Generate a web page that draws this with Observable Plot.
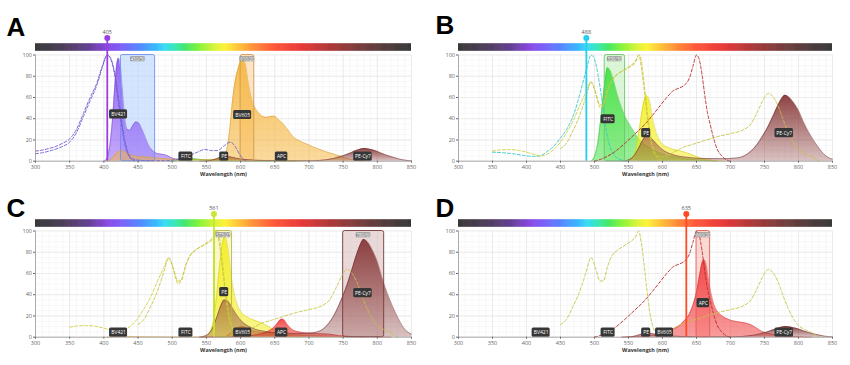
<!DOCTYPE html>
<html><head><meta charset="utf-8">
<script src="https://cdn.jsdelivr.net/npm/d3@7"></script>
<script src="https://cdn.jsdelivr.net/npm/@observablehq/plot@0.6"></script>
<style>
body{margin:0;background:#fff;}
#wrap{position:relative;width:850px;height:365px;overflow:hidden;background:#fff;}
#wrap svg{position:absolute;}
</style></head><body><div id="wrap"></div>
<script>
// ---------- DATA ----------
const dyes = ["BV421", "FITC", "PE", "BV605", "APC", "PE-Cy7"];
const dyePeaks = [421.5, 520, 576, 603, 660, 779];
const dyeColors = ["#8a55f5", "#3fe03f", "#f4ee1c", "#f6b53c", "#f23b3b", "#843232"];
const excColors = ["#7b4fcf", "#38c6c6", "#d0d03a", "#6a5fd0", "#b52a2a", "#c4c444"];
// order in which the emission areas are stacked (back to front)
const drawOrder = ["BV421", "FITC", "PE", "BV605", "APC", "PE-Cy7"];
// gradient opacity (top, bottom) per dye
const gradTop = [0.9, 0.9, 0.9, 0.9, 0.9, 0.92];
const gradBottom = [0.5, 0.5, 0.5, 0.5, 0.5, 0.3];

// excitation spectra [wavelength, %]
const BV421_ex = [[300,9.5],[310,10.5],[320,12],[330,14],[340,17],[350,21],[360,30],[370,45],[380,60],[390,74],[398,90],[405,100],[410,96],[415,84],[420,62],[425,38],[430,18],[435,7],[440,2],[445,0]];
const FITC_ex = [[350,8.5],[365,8],[380,7],[395,5.5],[410,4.5],[420,5],[430,9],[440,14],[450,22],[460,31],[470,45],[480,67],[488,86],[495,100],[500,96],[505,82],[510,62],[515,38],[520,20],[525,10],[530,5],[540,1],[550,0]];
const PE_ex = [[350,9.5],[360,10.5],[375,11],[390,10],[400,8.5],[410,6.5],[420,5],[430,6.5],[440,11],[450,18],[460,28],[470,40],[480,55],[488,66],[494,74],[499,70],[504,58],[509,50],[514,55],[521,70],[528,78],[536,83],[545,86],[553,89],[559,92],[563,97],[566,100],[569,94],[573,74],[577,50],[581,30],[585,15],[590,6],[595,2],[600,0]];
const BV605_ex = [[300,7],[310,8],[320,9.5],[330,11.5],[340,14],[350,18],[360,27],[370,42],[380,57],[390,72],[398,89],[405,100],[410,97],[415,86],[420,66],[425,43],[430,22],[435,9],[440,3],[450,1],[470,0.5],[490,0.5],[505,1.5],[520,4],[535,8],[548,11],[558,10],[566,10],[575,14],[585,18],[592,14],[598,7],[604,2],[610,0]];
const APC_ex = [[500,0],[510,2],[520,5],[530,9],[545,17],[560,26],[570,32],[585,43],[595,51],[605,59],[615,66],[625,69],[633,72],[640,79],[645,90],[650,100],[654,96],[658,82],[662,63],[666,46],[670,35],[675,22],[680,12],[687,5],[695,1],[700,0]];
const PECy7_ex = [[450,12],[460,18],[467,27],[475,38],[482,50],[488,62],[495,75],[502,64],[508,53],[513,53],[519,66],[526,77],[534,82],[541,85],[548,88],[555,91],[560,94],[565,100],[569,88],[573,68],[577,45],[581,25],[585,12],[590,5],[600,4],[615,8],[630,13],[645,16],[660,19],[680,23],[700,26],[720,30],[730,35],[740,47],[750,60],[756,64],[762,61],[770,52],[778,38],[785,27],[792,18],[800,11],[810,7],[820,4],[830,0]];

// emission spectra [wavelength, %]
const BV421_em = [[400,0],[404,2],[408,12],[412,35],[416,72],[419,94],[421.5,100],[424,93],[427,70],[430,45],[434,31],[438,30],[442,34],[447,38],[451,37],[455,32],[460,24],[465,16],[470,11],[476,8],[482,7],[488,6.5],[494,5],[500,3],[510,1.5],[520,0.5],[530,0]];
const FITC_em = [[495,0],[500,5],[505,20],[510,50],[515,82],[519,100],[523,97],[528,86],[534,70],[540,57],[545,48],[550,41],[556,34],[563,26],[570,20],[580,15],[592,10],[605,6.5],[622,4],[640,2],[660,1],[680,0]];
const PE_em = [[545,0],[550,1],[555,5],[560,16],[565,42],[569,70],[573,92],[576,100],[579,97],[582,86],[586,62],[590,46],[595,33],[600,26],[610,20],[620,17],[628,15],[636,12.5],[645,9],[655,5],[665,2.5],[675,1],[690,0]];
const BV605_em = [[405,0],[410,1.5],[415,5],[420,9],[425,10.5],[430,9.5],[436,7],[445,5],[460,4],[480,3],[500,2],[520,1.5],[550,1.5],[566,2],[572,2.5],[576,4],[580,12],[584,30],[588,58],[592,78],[597,92],[602,100],[606,97],[611,78],[615,64],[620,54],[626,48],[632,44],[638,43],[645,44],[650,44],[655,41],[662,37],[670,30],[677,24],[686,20],[696,17],[706,14],[716,11.5],[726,9],[736,7],[745,5],[752,3.5],[760,2],[770,0.8],[780,0]];
const APC_em = [[540,0],[560,1],[580,2],[595,4],[605,7],[615,10],[625,15],[632,21],[639,29],[645,42],[650,58],[655,82],[659,98],[661,100],[664,94],[668,72],[672,54],[677,39],[683,31],[690,26],[700,22],[710,20],[720,18.5],[730,16],[738,12],[746,7.5],[755,5],[765,3],[780,1.5],[800,0.5],[820,0]];
const PECy7_em = [[540,0],[550,2],[558,8],[565,20],[571,32],[576,38],[581,37],[587,31],[594,23],[602,16],[612,11],[622,8],[635,6],[650,4.5],[670,4],[690,3.8],[705,4.5],[715,6],[722,9],[730,15],[738,24],[746,36],[754,50],[762,67],[770,85],[776,96],[780,100],[785,98],[792,90],[800,77],[808,58],[815,44],[822,32],[830,20],[838,10],[845,5],[850,3]];

// panels
const panelLetters = ["A", "B", "C", "D"];
const laserWl = [405, 488, 561, 635];
const laserColors = ["#9a3ee0", "#22d0ee", "#c8e632", "#ff4a24"];
// emission brightness per panel, in dye order
const brightA = [97, 3, 4, 96, 0, 12];
const brightB = [0, 88, 62, 0, 0, 62];
const brightC = [0, 0, 94, 10, 17, 92];
const brightD = [0, 0, 0, 0, 73, 10];
const panelExc = [["BV421", "BV605"], ["FITC", "PE", "APC", "PE-Cy7"], ["PE", "PE-Cy7"], ["APC", "PE-Cy7"]];
const panelLabels = [dyes, ["FITC", "PE", "PE-Cy7"], dyes, dyes];
const filterNames = [["450/50", "610/20"], ["530/30"], ["575/25", "780/60"], ["660/20"]];
const filterFills = [["#b8d4ff", "#fcd4a0"], ["#c4f2bc"], ["#f5f5a8", "#dcc0c0"], ["#fbc0b8"]];
const filterStrokes = [["#6f8ff0", "#d09a50"], ["#6cc46c"], ["#b8b840", "#7a3a3a"], ["#e06060"]];

// axes
const xTicks = [300, 350, 400, 450, 500, 550, 600, 650, 700, 750, 800, 850];
const yTicks = [0, 20, 40, 60, 80, 100];
const minorX = [300,310,320,330,340,350,360,370,380,390,400,410,420,430,440,450,460,470,480,490,500,510,520,530,540,550,560,570,580,590,600,610,620,630,640,650,660,670,680,690,700,710,720,730,740,750,760,770,780,790,800,810,820,830,840,850];
const minorY = [0,5,10,15,20,25,30,35,40,45,50,55,60,65,70,75,80,85,90,95,100];

// spectrum colour bar
const barStops = [300, 345, 380, 405, 425, 450, 475, 490, 505, 520, 540, 560, 578, 598, 620, 648, 690, 735, 780, 820, 850];
const barColors = ["#000000","#1e0830","#3a0a78","#6814d8","#5a30f5","#2860ff","#00a0ff","#00d0f0","#00e0a0","#10e040","#60f000","#c0f000","#ffee00","#ffb000","#ff7000","#ff2a00","#e00000","#900000","#4a0808","#1a0404","#000000"];

// ---------- BUILD ----------
const ex = {BV421: BV421_ex, FITC: FITC_ex, PE: PE_ex, BV605: BV605_ex, APC: APC_ex, "PE-Cy7": PECy7_ex};
const em = [BV421_em, FITC_em, PE_em, BV605_em, APC_em, PECy7_em];
const brights = [brightA, brightB, brightC, brightD];
const barScale = d3.scaleLinear().domain(barStops).range(barColors).interpolate(d3.interpolateRgb);
const barWl = d3.range(barStops[0], barStops[barStops.length - 1]);
const labelW = {BV421: 18, FITC: 14, PE: 9, BV605: 18, APC: 12.5, "PE-Cy7": 18.5};

// layout
const L = {left: [0, 423, 0, 423], top: [0, 0, 176, 176], width: [425, 423, 425, 423],
  letterDx: [-29, -23, -29, -23], letterDy: [-37.5, -39.5, -32.5, -32.5]};
const FONT = "'Open Sans', 'Noto Sans', sans-serif";

const wrap = document.getElementById("wrap");

panelLetters.forEach((letter, p) => {
  const marks = [];
  // grid
  marks.push(Plot.ruleX(minorX, {y1: 0, y2: 100, stroke: "#f0f0f0", strokeWidth: 0.5}));
  marks.push(Plot.ruleY(minorY, {x1: 300, x2: 850, stroke: "#f0f0f0", strokeWidth: 0.5}));
  marks.push(Plot.ruleX(xTicks, {y1: 0, y2: 100, stroke: "#e3e3e3", strokeWidth: 0.6}));
  marks.push(Plot.ruleY(yTicks, {x1: 300, x2: 850, stroke: "#e3e3e3", strokeWidth: 0.6}));

  // filter fills (behind)
  const filters = filterNames[p].map((name, j) => {
    const [c, w] = name.split("/").map(Number);
    return {name, x1: c - w / 2, x2: c + w / 2, c, fill: filterFills[p][j], stroke: filterStrokes[p][j]};
  });
  filters.forEach(f => {
    marks.push(Plot.rect([f], {x1: "x1", x2: "x2", y1: 0, y2: 100, fill: f.fill, fillOpacity: 0.6, rx: 2}));
  });

  // emissions
  drawOrder.forEach(name => {
    const i = dyes.indexOf(name);
    const b = brights[p][i];
    if (!(b > 0)) return;
    const data = em[i].map(([w, v]) => ({w, v: v * b / 100}));
    marks.push(Plot.areaY(data, {x: "w", y: "v", fill: `url(#em${p}_${i})`, curve: "monotone-x"}));
    marks.push(Plot.lineY(data, {x: "w", y: "v", stroke: d3.color(dyeColors[i]).darker(0.5).formatHex(), strokeWidth: 0.6, strokeOpacity: 0.8, curve: "monotone-x"}));
  });

  // filter outlines
  filters.forEach(f => {
    marks.push(Plot.rect([f], {x1: "x1", x2: "x2", y1: 0, y2: 100, fill: "none", stroke: f.stroke, strokeWidth: 0.9, rx: 2}));
  });

  // excitation (dashed)
  panelExc[p].forEach(name => {
    const i = dyes.indexOf(name);
    marks.push(Plot.line(ex[name], {x: d => d[0], y: d => d[1], stroke: excColors[i], strokeWidth: 0.9, strokeDasharray: "3,2", curve: "monotone-x"}));
  });

  // colour bar
  marks.push(Plot.rect(barWl, {x1: d => d, x2: d => d + 1, y1: 103.5, y2: 110.6, fill: d => barScale(d + 0.5)}));

  // laser
  const lw = laserWl[p];
  marks.push(Plot.ruleX([lw], {y1: 0, y2: 116, stroke: laserColors[p], strokeWidth: 1.8}));
  marks.push(Plot.dot([lw], {x: d => d, y: 116, r: 3, fill: laserColors[p]}));
  marks.push(Plot.text([lw], {x: d => d, y: 121.5, text: d => String(d), fontSize: 5.5, fill: "#555"}));

  // filter labels
  filters.forEach(f => {
    marks.push(Plot.rect([f], {x1: "c", x2: "c", y1: 96, y2: 96, insetLeft: -7.5, insetRight: -7.5, insetTop: -2.5, insetBottom: -2.5, fill: "#8c8c8c", fillOpacity: 0.9, rx: 1.2}));
    marks.push(Plot.text([f], {x: "c", y: 96, text: "name", fontSize: 4.5, fill: "#fff"}));
  });

  // dye labels
  panelLabels[p].forEach(name => {
    const i = dyes.indexOf(name);
    const b = brights[p][i];
    const lab = {name, x: dyePeaks[i], y: Math.max(b / 2 - 4.5, 4.4)};
    const w = labelW[name];
    marks.push(Plot.rect([lab], {x1: "x", x2: "x", y1: "y", y2: "y", insetLeft: -w / 2, insetRight: -w / 2, insetTop: -4.6, insetBottom: -4.6, fill: "#363636", rx: 1.5}));
    marks.push(Plot.text([lab], {x: "x", y: "y", text: "name", fontSize: 5, fill: "#fff"}));
  });

  // axes
  marks.push(Plot.ruleY([0], {x1: 300, x2: 850, stroke: "#9a9a9a", strokeWidth: 0.8}));
  marks.push(Plot.ruleX([300], {y1: 0, y2: 100, stroke: "#9a9a9a", strokeWidth: 0.8}));
  marks.push(Plot.axisX({ticks: xTicks, tickSize: 2, tickPadding: 1.5, fontSize: 5.5, color: "#666", label: null}));
  marks.push(Plot.axisY({ticks: yTicks, tickSize: 2, tickPadding: 1.5, fontSize: 5.5, color: "#666", label: null}));
  marks.push(Plot.text(["Wavelength (nm)"], {frameAnchor: "bottom", dy: 14.3, text: d => d, fontSize: 5.5, fontWeight: "bold", fill: "#333"}));

  // panel letter
  marks.push(Plot.text([letter], {frameAnchor: "top-left", dx: L.letterDx[p], dy: L.letterDy[p], text: d => d, textAnchor: "start", lineAnchor: "top", fontSize: 26, fontWeight: "bold", fontFamily: "'Liberation Sans', Arial, sans-serif", fill: "#000"}));

  const svg = Plot.plot({
    width: L.width[p], height: 185,
    marginLeft: 35, marginRight: 14, marginTop: 54.5, marginBottom: 24.3,
    x: {domain: [300, 850]},
    y: {domain: [0, 100]},
    color: {type: "identity"},
    style: {fontFamily: FONT, fontSize: "6px", background: "transparent", overflow: "visible"},
    marks
  });

  // gradients for emission fills
  const defs = d3.select(svg).insert("defs", ":first-child");
  dyeColors.forEach((c, i) => {
    const g = defs.append("linearGradient").attr("id", `em${p}_${i}`).attr("x1", 0).attr("x2", 0).attr("y1", 0).attr("y2", 1);
    g.append("stop").attr("offset", "0%").attr("stop-color", c).attr("stop-opacity", gradTop[i]);
    g.append("stop").attr("offset", "100%").attr("stop-color", c).attr("stop-opacity", gradBottom[i]);
  });

  svg.style.left = L.left[p] + "px";
  svg.style.top = L.top[p] + "px";
  wrap.appendChild(svg);
});
</script>
</body></html>
